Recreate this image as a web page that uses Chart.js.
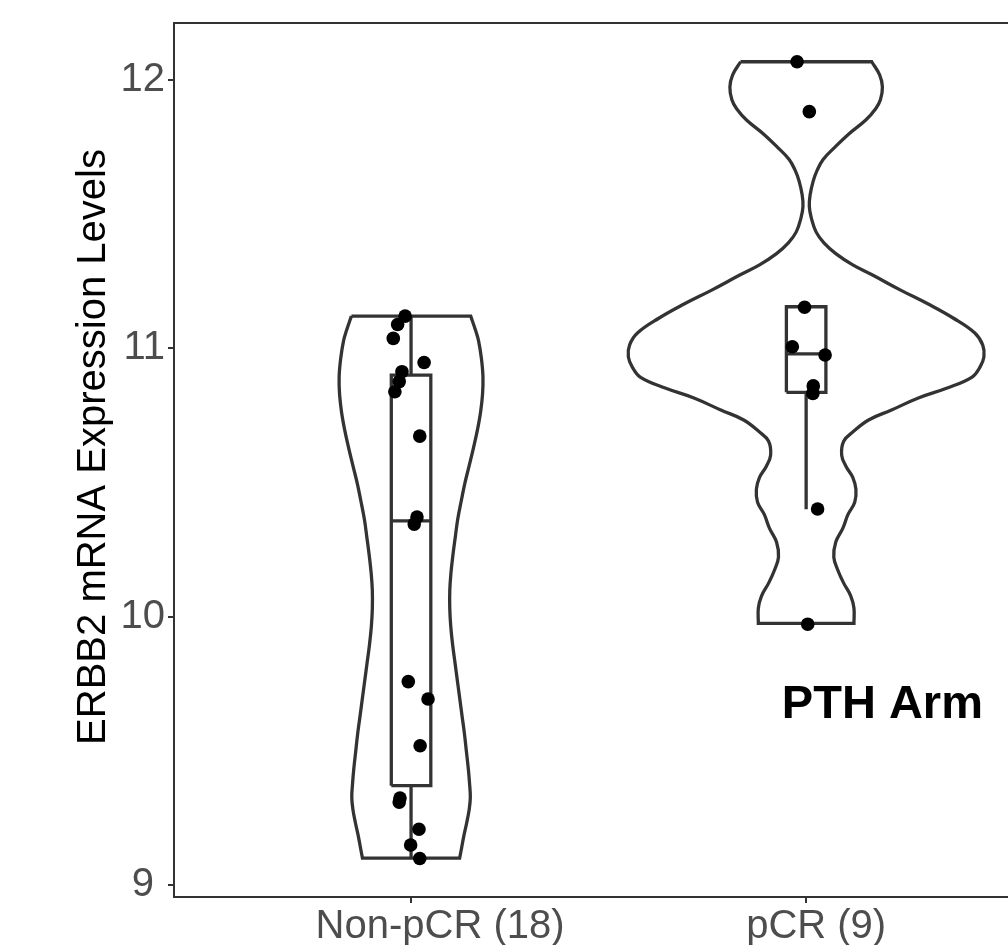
<!DOCTYPE html>
<html>
<head>
<meta charset="utf-8">
<script src="https://cdn.jsdelivr.net/npm/chart.js"></script>
<style>
  html, body { margin: 0; padding: 0; background: #fff; overflow: hidden; }
  #wrap { width: 1050px; height: 945px; position: relative; }
</style>
</head>
<body>
<div id="wrap"><canvas id="violinChart"></canvas></div>
<script>
const categories = ['Non-pCR (18)', 'pCR (9)'];
const yTicks = [9, 10, 11, 12];
const yTickLabels = ['9 ', '10', '11', '12'];
const yTitle = 'ERBB2 mRNA Expression Levels';

// jittered points, x = group position + jitter
const nonPcrX = [0.985, 0.966, 0.955, 1.033, 0.977, 0.970, 0.959, 1.022, 1.015,
                 1.008, 0.993, 1.043, 1.023, 0.972, 0.970, 1.020, 0.999, 1.022];
const nonPcrY = [11.12, 11.089, 11.037, 10.947, 10.913, 10.876, 10.838, 10.673, 10.371,
                 10.345, 9.758, 9.693, 9.519, 9.324, 9.309, 9.208, 9.149, 9.099];
const pcrX = [1.977, 2.008, 1.996, 1.965, 2.048, 2.018, 2.017, 2.029, 2.004];
const pcrY = [12.068, 11.882, 11.153, 11.006, 10.975, 10.860, 10.832, 10.401, 9.972];

// boxplot stats per group
const boxLow = [9.10, 10.40];
const boxQ1 = [9.37, 10.836];
const boxMed = [10.357, 10.979];
const boxQ3 = [10.90, 11.155];
const boxHigh = [11.12, 11.155];

// violin outlines: y levels (top to bottom) and half widths in x units
const nonPcrViolinY = [11.12, 11.068, 11.027, 10.963, 10.895, 10.830, 10.763, 10.696, 10.629,
  10.562, 10.496, 10.431, 10.362, 10.297, 10.230, 10.163, 10.097, 10.030, 9.964, 9.898,
  9.831, 9.764, 9.698, 9.631, 9.565, 9.499, 9.432, 9.380, 9.326, 9.280, 9.233, 9.186,
  9.139, 9.10];
const nonPcrViolinHalf = [0.151, 0.163, 0.171, 0.178, 0.182, 0.181, 0.176, 0.168, 0.158,
  0.147, 0.136, 0.127, 0.118, 0.112, 0.106, 0.101, 0.098, 0.098, 0.1005, 0.105,
  0.111, 0.117, 0.123, 0.129, 0.135, 0.140, 0.145, 0.148, 0.150, 0.147, 0.141, 0.134,
  0.128, 0.123];
const pcrViolinY = [12.068, 12.019, 11.974, 11.926, 11.893, 11.851, 11.799, 11.750, 11.704,
  11.664, 11.624, 11.571, 11.529, 11.486, 11.434, 11.393, 11.353, 11.311, 11.273, 11.217,
  11.165, 11.113, 11.057, 11.012, 10.968, 10.930, 10.893, 10.852, 10.815, 10.770, 10.733,
  10.688, 10.654, 10.601, 10.560, 10.519, 10.474, 10.426, 10.381, 10.330, 10.278, 10.222,
  10.174, 10.125, 10.077, 10.032, 9.975];
const pcrViolinHalf = [0.166, 0.186, 0.193, 0.188, 0.176, 0.151, 0.108, 0.073, 0.043,
  0.028, 0.018, 0.010, 0.008, 0.013, 0.025, 0.045, 0.075, 0.118, 0.168, 0.239,
  0.309, 0.372, 0.427, 0.447, 0.450, 0.440, 0.420, 0.357, 0.284, 0.216, 0.158,
  0.118, 0.095, 0.090, 0.101, 0.118, 0.126, 0.123, 0.106, 0.093, 0.075, 0.070,
  0.080, 0.095, 0.113, 0.121, 0.121];

const annotText = 'PTH Arm';
const annotX = 2.193;
const annotY = 9.67;

const FONT = '"Liberation Sans", Arial, Helvetica, sans-serif';
const LINE = '#333333';
const BOX_HALF = 0.05;

function violinOutline(center, ys, half) {
    const left = ys.map((y, i) => ({ x: center - half[i], y: y }));
    const right = ys.map((y, i) => ({ x: center + half[i], y: y })).reverse();
    const n = left.length - 1;
    // corners doubled so the curve stays sharp at the flat ends
    return [left[0], ...left, left[n], right[0], ...right, right[n], left[0], left[0]];
}

function boxShape(i) {
    const c = i + 1;
    return [
        { x: c - BOX_HALF, y: boxQ1[i] }, { x: c + BOX_HALF, y: boxQ1[i] },
        { x: c + BOX_HALF, y: boxQ3[i] }, { x: c - BOX_HALF, y: boxQ3[i] },
        { x: c - BOX_HALF, y: boxQ1[i] }, { x: c, y: null },
        { x: c - BOX_HALF, y: boxMed[i] }, { x: c + BOX_HALF, y: boxMed[i] }, { x: c, y: null },
        { x: c, y: boxQ3[i] }, { x: c, y: boxHigh[i] }, { x: c, y: null },
        { x: c, y: boxQ1[i] }, { x: c, y: boxLow[i] }
    ];
}

function lineSet(data, tension, order) {
    return {
        data: data, showLine: true, tension: tension, order: order,
        borderColor: LINE, borderWidth: 3.3, pointRadius: 0, pointHoverRadius: 0,
        fill: false, spanGaps: false
    };
}

function pointSet(xs, ys) {
    return {
        data: xs.map((x, i) => ({ x: x, y: ys[i] })),
        showLine: false, order: 0,
        pointRadius: 6.8, pointHoverRadius: 6.8,
        pointBackgroundColor: '#000', pointBorderWidth: 0
    };
}

const panelExtras = {
    id: 'panelExtras',
    afterDraw(chart) {
        const { ctx, chartArea } = chart;
        const xs = chart.scales.x, ys = chart.scales.y;
        ctx.save();
        ctx.strokeStyle = LINE;
        ctx.lineWidth = 2;
        ctx.strokeRect(chartArea.left, chartArea.top,
            chartArea.right - chartArea.left, chartArea.bottom - chartArea.top);

        // category labels sit a little right of their ticks in the original
        const shift = [29, 10];
        ctx.font = '40px ' + FONT;
        ctx.fillStyle = '#4d4d4d';
        ctx.textAlign = 'center';
        ctx.textBaseline = 'alphabetic';
        categories.forEach((c, i) => {
            ctx.fillText(c, xs.getPixelForValue(i + 1) + shift[i], 938);
        });

        // y axis title
        ctx.save();
        ctx.translate(94, 447);
        ctx.rotate(-Math.PI / 2);
        ctx.fillStyle = '#000';
        ctx.textBaseline = 'middle';
        ctx.fillText(yTitle, 0, 0);
        ctx.restore();

        ctx.font = 'bold 47px ' + FONT;
        ctx.fillStyle = '#000';
        ctx.textBaseline = 'middle';
        ctx.fillText(annotText, xs.getPixelForValue(annotX), ys.getPixelForValue(annotY));
        ctx.restore();
    }
};

document.addEventListener('DOMContentLoaded', () => {
    const ctx = document.getElementById('violinChart').getContext('2d');
    new Chart(ctx, {
        type: 'scatter',
        data: {
            datasets: [
                pointSet(nonPcrX, nonPcrY),
                pointSet(pcrX, pcrY),
                lineSet(boxShape(0), 0, 1),
                lineSet(boxShape(1), 0, 1),
                lineSet(violinOutline(1, nonPcrViolinY, nonPcrViolinHalf), 0.4, 2),
                lineSet(violinOutline(2, pcrViolinY, pcrViolinHalf), 0.4, 2)
            ]
        },
        options: {
            responsive: true,
            maintainAspectRatio: false,
            animation: false,
            layout: { padding: { top: 23, left: 0, right: 0, bottom: 0 } },
            plugins: { legend: { display: false }, tooltip: { enabled: false } },
            scales: {
                x: {
                    type: 'linear', min: 0.4, max: 2.6,
                    afterBuildTicks: s => { s.ticks = categories.map((c, i) => ({ value: i + 1 })); },
                    afterFit: s => { s.height = 48; s.paddingLeft = 0; s.paddingRight = 0; },
                    ticks: { display: false },
                    grid: { drawOnChartArea: false, drawTicks: true, tickLength: 6, color: LINE, lineWidth: 2 },
                    border: { display: false }
                },
                y: {
                    type: 'linear', min: 8.9553, max: 12.2124,
                    afterBuildTicks: s => { s.ticks = yTicks.map(v => ({ value: v })); },
                    afterFit: s => { s.width = 174; s.paddingTop = 0; s.paddingBottom = 0; },
                    ticks: {
                        font: { family: FONT, size: 40 }, color: '#4d4d4d', padding: 3,
                        callback: v => yTickLabels[yTicks.indexOf(v)]
                    },
                    grid: { drawOnChartArea: false, drawTicks: true, tickLength: 6, color: LINE, lineWidth: 2 },
                    border: { display: false }
                }
            }
        },
        plugins: [panelExtras]
    });
});
</script>
</body>
</html>
